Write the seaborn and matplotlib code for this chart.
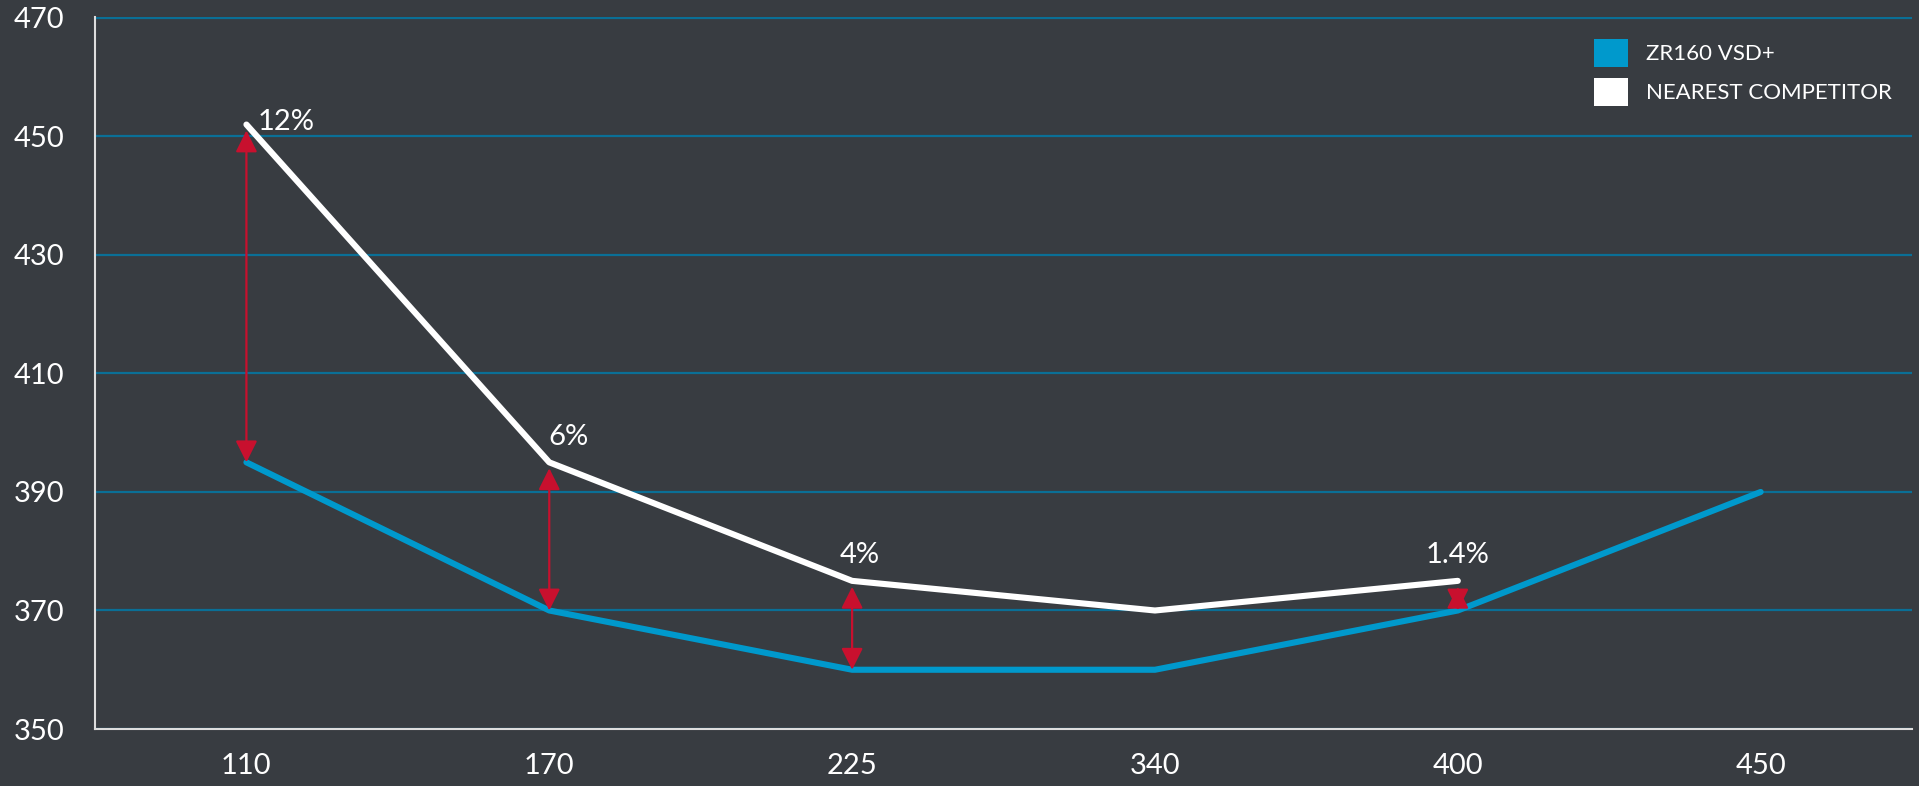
import pandas as pd
import numpy as np
import seaborn as sns
import matplotlib.pyplot as plt
from matplotlib.patches import Patch

# data
categories = ["110", "170", "225", "340", "400", "450"]
zr160_vals = [395, 370, 360, 360, 370, 390]
competitor_cats = ["110", "170", "225", "340", "400"]
competitor_vals = [452, 395, 375, 370, 375]

gap_cats = ["110", "170", "225", "400"]
gap_labels = ["12%", "6%", "4%", "1.4%"]

series_names = ["ZR160 VSD+", "NEAREST COMPETITOR"]
y_ticks = [350, 370, 390, 410, 430, 450, 470]

bg = "#383C41"
blue = "#0099CC"
grid_col = "#0A6F96"
red = "#C8102E"

sns.set_theme(style="dark")
plt.rcParams['font.family'] = ['Lato', 'DejaVu Sans']

df = pd.concat([
    pd.DataFrame({"x": categories, "y": zr160_vals, "series": series_names[0]}),
    pd.DataFrame({"x": competitor_cats, "y": competitor_vals, "series": series_names[1]}),
])

fig = plt.figure(figsize=(19.19, 7.86), dpi=100, facecolor=bg)
ax = fig.add_axes([0.0495, 0.0725, 0.9469, 0.9059])
ax.set_facecolor(bg)

sns.lineplot(data=df, x="x", y="y", hue="series", hue_order=series_names,
             palette=[blue, "white"], linewidth=4.4, ax=ax, legend=False,
             sort=False)
for ln in ax.lines:
    ln.set_solid_joinstyle("round")
    ln.set_solid_capstyle("round")

ax.set_xlim(-0.5, 5.5)
ax.set_ylim(350, 470.15)
ax.set_yticks(y_ticks)
ax.yaxis.grid(True, color=grid_col, linewidth=1.6)
ax.xaxis.grid(False)
ax.set_axisbelow(True)
ax.tick_params(axis="both", length=0, labelsize=21, colors="white")
ax.tick_params(axis="y", pad=22)
ax.tick_params(axis="x", pad=17)
ax.set_xlabel("")
ax.set_ylabel("")

for side in ["top", "right"]:
    ax.spines[side].set_visible(False)
for side in ["left", "bottom"]:
    ax.spines[side].set_visible(True)
    ax.spines[side].set_color("#DDDDDD")
    ax.spines[side].set_linewidth(1.5)
    ax.spines[side].set_zorder(5)

# red double arrows between the two lines, with the percentage gap
zr = dict(zip(categories, zr160_vals))
comp = dict(zip(competitor_cats, competitor_vals))
text_offsets = [(8, 2, "left", "center"), (-1, 9, "left", "bottom"),
                (-9, 9, "left", "bottom"), (0, 9, "center", "bottom")]
for c, lab, (dx, dy, ha, va) in zip(gap_cats, gap_labels, text_offsets):
    i = categories.index(c)
    ax.annotate("", xy=(i, comp[c] - 1), xytext=(i, zr[c]),
                arrowprops=dict(arrowstyle="<|-|>,head_length=1.1,head_width=0.55",
                                color=red, lw=1.6, shrinkA=0, shrinkB=0),
                zorder=6)
    ax.annotate(lab, xy=(i, comp[c]), xytext=(dx, dy), textcoords="offset points",
                ha=ha, va=va, fontsize=21, color="white", zorder=7)

handles = [Patch(facecolor=blue, edgecolor="none"),
           Patch(facecolor="white", edgecolor="none")]
leg = fig.legend(handles, series_names, loc="upper left",
                 bbox_to_anchor=(1594 / 1919, 1 - 39 / 786),
                 frameon=False, fontsize=16, labelcolor="white",
                 handlelength=1.55, handleheight=1.55, handletextpad=0.8,
                 labelspacing=0.5, borderpad=0, borderaxespad=0)

fig.savefig("out.png", dpi=100, facecolor=bg)
